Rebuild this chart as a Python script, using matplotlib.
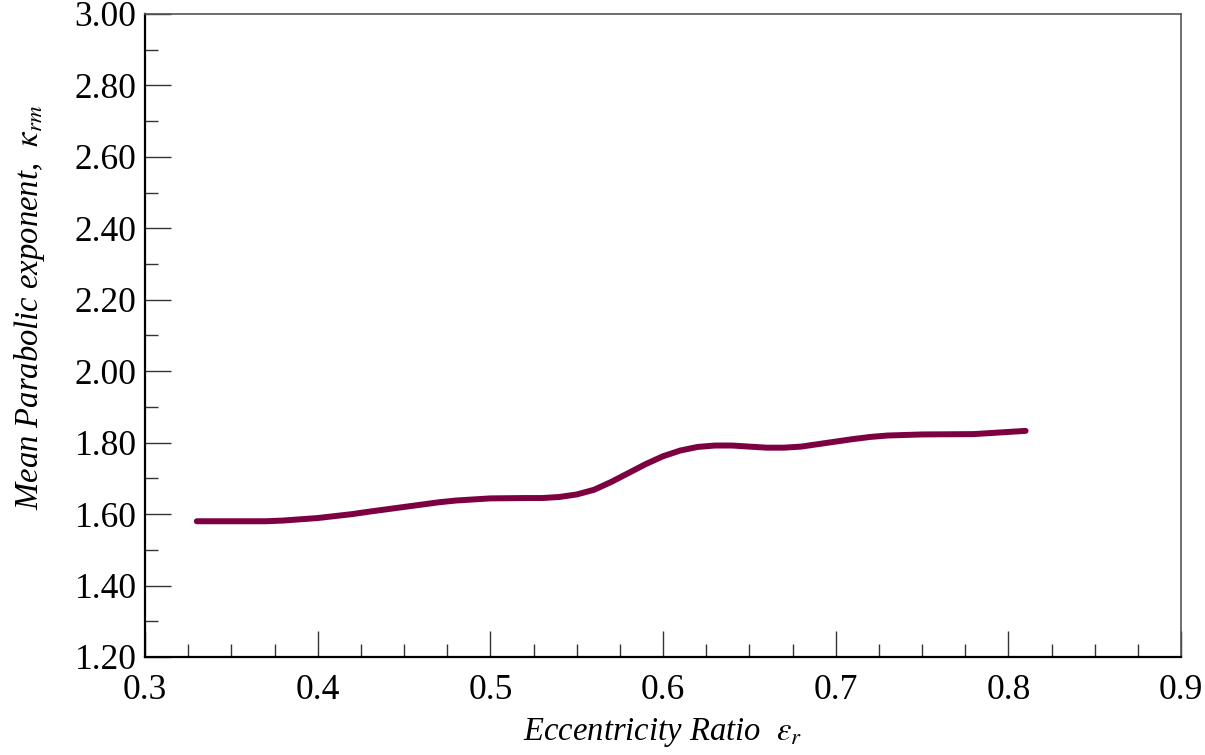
import matplotlib
matplotlib.use("Agg")
import matplotlib.pyplot as plt
from matplotlib.ticker import MultipleLocator, FormatStrFormatter

# Values
eccentricity = [0.33, 0.35, 0.37, 0.38, 0.40, 0.42, 0.43, 0.45, 0.47, 0.48, 0.50,
                0.52, 0.53, 0.54, 0.55, 0.56, 0.57, 0.58, 0.59, 0.60, 0.61, 0.62,
                0.63, 0.64, 0.65, 0.66, 0.67, 0.68, 0.69, 0.70, 0.71, 0.72, 0.73,
                0.75, 0.78, 0.80, 0.81]
kappa_rm = [1.580, 1.580, 1.580, 1.582, 1.589, 1.600, 1.607, 1.620, 1.633, 1.638, 1.644,
            1.645, 1.645, 1.648, 1.655, 1.668, 1.690, 1.715, 1.740, 1.762, 1.778, 1.788,
            1.792, 1.792, 1.789, 1.786, 1.786, 1.789, 1.796, 1.803, 1.810, 1.816, 1.820,
            1.823, 1.824, 1.830, 1.833]

plt.rcParams['font.family'] = ['Liberation Serif', 'DejaVu Serif']
plt.rcParams['mathtext.fontset'] = 'stix'

fig = plt.figure(figsize=(12.05, 7.55), dpi=100)
ax = fig.add_axes([145 / 1205, 1 - 657 / 755, (1181 - 145) / 1205, (657 - 14) / 755])

ax.plot(eccentricity, kappa_rm, color='#7d0040', linewidth=4.3,
        solid_capstyle='round', solid_joinstyle='round')

ax.set_xlim(0.3, 0.9)
ax.set_ylim(1.2, 3.0)
ax.xaxis.set_major_locator(MultipleLocator(0.1))
ax.xaxis.set_minor_locator(MultipleLocator(0.025))
ax.yaxis.set_major_locator(MultipleLocator(0.2))
ax.yaxis.set_minor_locator(MultipleLocator(0.1))
ax.xaxis.set_major_formatter(FormatStrFormatter('%.1f'))
ax.yaxis.set_major_formatter(FormatStrFormatter('%.2f'))

ax.tick_params(which='both', direction='in', top=False, right=False,
               labelsize=25.5, color='#333333')
ax.tick_params(which='major', length=19, width=1.0)
ax.tick_params(which='minor', length=9.5, width=1.0)
ax.tick_params(axis='x', which='major', pad=12)
ax.tick_params(axis='y', which='major', pad=6)

for side in ['left', 'bottom']:
    ax.spines[side].set_linewidth(1.6)
    ax.spines[side].set_color('black')
for side in ['top', 'right']:
    ax.spines[side].set_linewidth(1.2)
    ax.spines[side].set_color('#555555')

ax.set_xlabel(r'Eccentricity Ratio  $\varepsilon_r$', fontsize=23.5, style='italic', labelpad=7)
ax.set_ylabel(r'Mean Parabolic exponent,  $\kappa_{rm}$', fontsize=23.5, style='italic')
ax.yaxis.set_label_coords(-0.0946, 0.543)

fig.savefig('out.png', dpi=100)
